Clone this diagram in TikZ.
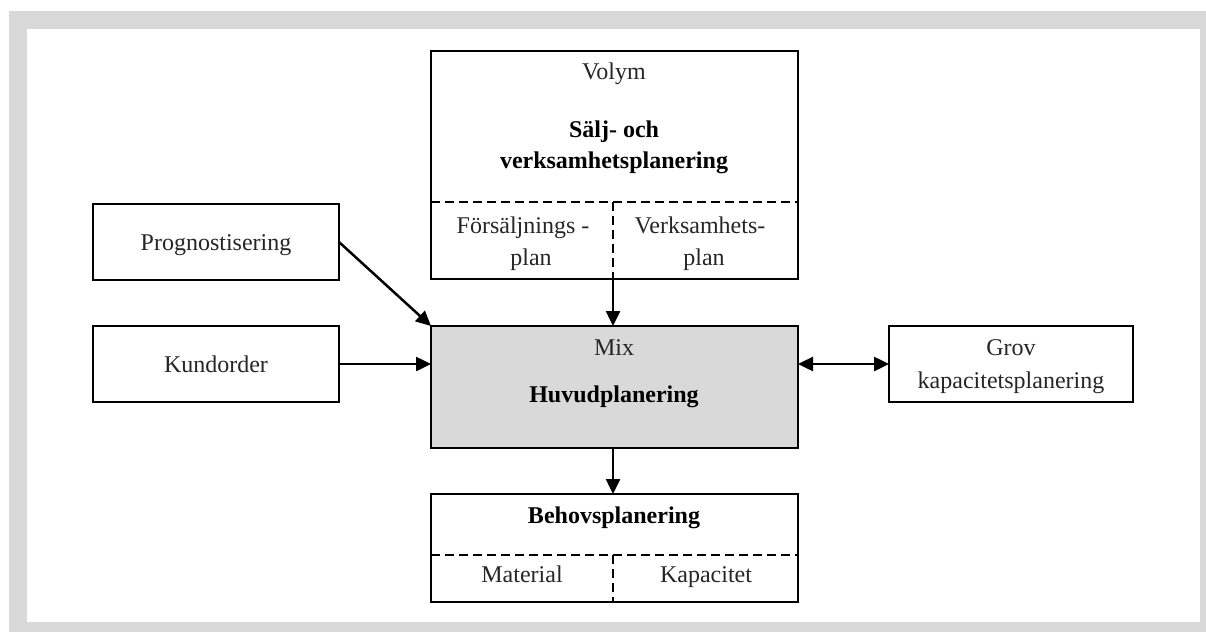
\documentclass[tikz,border=0pt]{standalone}
\usepackage{fontspec}
\setmainfont{Liberation Serif}
\usetikzlibrary{arrows.meta}
\definecolor{framegray}{HTML}{D9D9D9}
\definecolor{mixgray}{HTML}{D9D9D9}
\definecolor{inkgray}{HTML}{262626}

\tikzset{
  box/.style={draw=black, line width=2.7pt, anchor=north west, inner sep=0pt, outer sep=0pt},
  divider/.style={line width=2.5pt, dash pattern=on 9pt off 5pt},
  flow/.style={line width=2.5pt, -{Triangle[length=15pt,width=14pt]}},
  twoway/.style={line width=2.5pt, {Triangle[length=15pt,width=14pt]}-{Triangle[length=15pt,width=14pt]}},
  txt/.style={font=\fontsize{24}{30}\selectfont, text=inkgray, anchor=base, inner sep=0pt},
  bold/.style={txt, font=\fontsize{24}{30}\selectfont\bfseries, text=black},
}

\begin{document}
\begin{tikzpicture}[x=1pt,y=-1pt]
  % page, grey frame and white panel
  \useasboundingbox (0,0) rectangle (1206,632);
  \fill[white] (0,0) rectangle (1206,632);
  \fill[framegray] (9,11) rectangle (1206,632);
  \fill[white] (27,29) rectangle (1200,622);

  % boxes
  \node[box, minimum width=367pt, minimum height=228pt] (plan) at (431,51) {};
  \node[box, fill=mixgray, minimum width=367pt, minimum height=122pt] (mix) at (431,326) {};
  \node[box, minimum width=367pt, minimum height=108pt] (behov) at (431,494) {};
  \node[box, minimum width=246pt, minimum height=76pt] (prog) at (93,204) {};
  \node[box, minimum width=246pt, minimum height=76pt] (kund) at (93,326) {};
  \node[box, minimum width=244pt, minimum height=76pt] (grov) at (889,326) {};

  % dashed subdivisions
  \coordinate (planL) at (431,202);
  \coordinate (planR) at (798,202);
  \coordinate (planM) at (613,202);
  \coordinate (planB) at (613,279);
  \draw[divider] (planL) -- (planR);
  \draw[divider] (planM) -- (planB);
  \coordinate (behovL) at (431,555);
  \coordinate (behovR) at (798,555);
  \coordinate (behovM) at (613,555);
  \coordinate (behovB) at (613,602);
  \draw[divider] (behovL) -- (behovR);
  \draw[divider] (behovM) -- (behovB);

  % texts
  \node[txt] (tvolym) at (614,79) {Volym};
  \node[bold] (tsalj1) at (614,137) {Sälj- och};
  \node[bold] (tsalj2) at (614,168) {verksamhetsplanering};
  \node[txt] (tfors1) at (523,233) {Försäljnings -};
  \node[txt] (tfors2) at (531,265) {plan};
  \node[txt] (tverk1) at (700,233) {Verksamhets-};
  \node[txt] (tverk2) at (704,265) {plan};
  \node[txt] (tmix) at (614,355) {Mix};
  \node[bold] (thuvud) at (614,402) {Huvudplanering};
  \node[bold] (tbehov) at (614,523) {Behovsplanering};
  \node[txt] (tmat) at (522,582) {Material};
  \node[txt] (tkap) at (706,582) {Kapacitet};
  \node[txt] (tprog) at (216,250) {Prognostisering};
  \node[txt] (tkund) at (216,372) {Kundorder};
  \node[txt] (tgrov1) at (1011,355) {Grov};
  \node[txt] (tgrov2) at (1011,388) {kapacitetsplanering};

  % connectors
  \draw[flow] (prog.east) -- (mix.north west);
  \draw[flow] (kund.east) -- (mix.west |- kund.east);
  \draw[flow] (planB) -- (planB |- mix.north);
  \draw[flow] (planB |- mix.south) -- (planB |- behov.north);
  \draw[twoway] (mix.east |- grov.west) -- (grov.west);
\end{tikzpicture}
\end{document}
